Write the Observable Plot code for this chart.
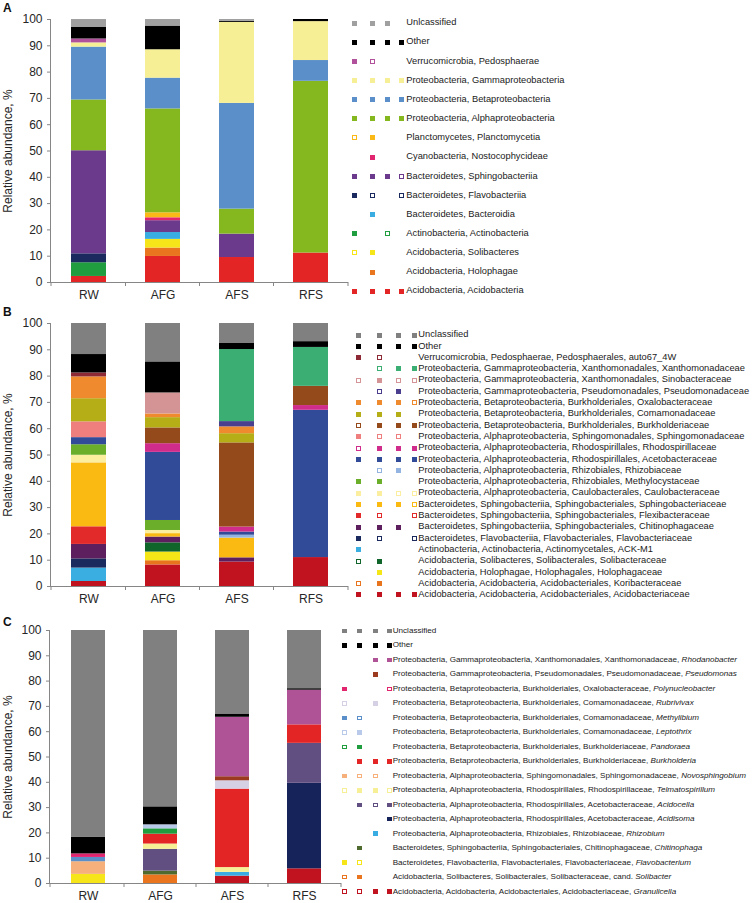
<!DOCTYPE html>
<html><head><meta charset="utf-8">
<script src="https://cdn.jsdelivr.net/npm/d3@7"></script>
<script src="https://cdn.jsdelivr.net/npm/@observablehq/plot@0.6"></script>
<style>
body{margin:0;background:#fff;font-family:"Liberation Sans",Arial,sans-serif;}
#root{position:relative;width:753px;height:903px;overflow:hidden;background:#fff;}
.plotbox{position:absolute;left:0;}
.lg{position:absolute;white-space:nowrap;color:#1a1a1a;line-height:1.2;}
.mk{position:absolute;box-sizing:border-box;}
.letter{position:absolute;left:3px;font-weight:bold;font-size:12px;color:#111;}
</style></head><body><div id="root"></div>
<script>
const samples = ["RW", "AFG", "AFS", "RFS"];
const yTicks = [0, 10, 20, 30, 40, 50, 60, 70, 80, 90, 100];
const yTitle = "Relative abundance, %";

// ---------- Panel A ----------
const aTaxa = ["Unlcassified", "Other", "Verrucomicrobia, Pedosphaerae", "Proteobacteria, Gammaproteobacteria",
  "Proteobacteria, Betaproteobacteria", "Proteobacteria, Alphaproteobacteria", "Planctomycetes, Planctomycetia",
  "Cyanobacteria, Nostocophycideae", "Bacteroidetes, Sphingobacteriia", "Bacteroidetes, Flavobacteriia",
  "Bacteroidetes, Bacteroidia", "Actinobacteria, Actinobacteria", "Acidobacteria, Solibacteres",
  "Acidobacteria, Holophagae", "Acidobacteria, Acidobacteria"];
const aColors = ["#a0a0a0", "#000000", "#b2519b", "#f7ef96", "#5b8fc9", "#85b81f", "#fbb917", "#e1266f",
  "#6b3a8d", "#1b2a5e", "#39ade1", "#1f9d3f", "#f6e619", "#e9761f", "#e32526"];
const aRW  = [2.9, 4.5, 1.5, 1.6, 20.1, 19.3, 0, 0, 39.2, 3.4, 0, 5.2, 0, 0, 2.3];
const aAFG = [2.5, 9.0, 0, 10.8, 11.7, 39.5, 1.9, 1.1, 4.5, 0, 2.6, 0, 3.3, 3.2, 9.9];
const aAFS = [0.7, 0.4, 0, 30.8, 40.2, 9.5, 0, 0, 8.9, 0, 0, 0, 0, 0, 9.5];
const aRFS = [0, 0.8, 0, 14.8, 7.9, 65.3, 0, 0, 0, 0, 0, 0, 0, 0, 11.2];
const aMarks = ["FFF-", "FFFF", "FO--", "FFFF", "FFFF", "FFFF", "OF--", "-F--", "FFFO", "FO-O", "-F--",
  "F-O-", "OF--", "-F--", "FFFF"];

// ---------- Panel B ----------
const bTaxa = ["Unclassified", "Other",
  "Verrucomicrobia, Pedosphaerae, Pedosphaerales, auto67_4W",
  "Proteobacteria, Gammaproteobacteria, Xanthomonadales, Xanthomonadaceae",
  "Proteobacteria, Gammaproteobacteria, Xanthomonadales, Sinobacteraceae",
  "Proteobacteria, Gammaproteobacteria, Pseudomonadales, Pseudomonadaceae",
  "Proteobacteria, Betaproteobacteria, Burkholderiales, Oxalobacteraceae",
  "Proteobacteria, Betaproteobacteria, Burkholderiales, Comamonadaceae",
  "Proteobacteria, Betaproteobacteria, Burkholderiales, Burkholderiaceae",
  "Proteobacteria, Alphaproteobacteria, Sphingomonadales, Sphingomonadaceae",
  "Proteobacteria, Alphaproteobacteria, Rhodospirillales, Rhodospirillaceae",
  "Proteobacteria, Alphaproteobacteria, Rhodospirillales, Acetobacteraceae",
  "Proteobacteria, Alphaproteobacteria, Rhizobiales, Rhizobiaceae",
  "Proteobacteria, Alphaproteobacteria, Rhizobiales, Methylocystaceae",
  "Proteobacteria, Alphaproteobacteria, Caulobacterales, Caulobacteraceae",
  "Bacteroidetes, Sphingobacteriia, Sphingobacteriales, Sphingobacteriaceae",
  "Bacteroidetes, Sphingobacteriia, Sphingobacteriales, Flexibacteraceae",
  "Bacteroidetes, Sphingobacteriia, Sphingobacteriales, Chitinophagaceae",
  "Bacteroidetes, Flavobacteriia, Flavobacteriales, Flavobacteriaceae",
  "Actinobacteria, Actinobacteria, Actinomycetales, ACK-M1",
  "Acidobacteria, Solibacteres, Solibacterales, Solibacteraceae",
  "Acidobacteria, Holophagae, Holophagales, Holophagaceae",
  "Acidobacteria, Acidobacteria, Acidobacteriales, Koribacteraceae",
  "Acidobacteria, Acidobacteria, Acidobacteriales, Acidobacteriaceae"];
const bColors = ["#808080", "#000000", "#8e2a36", "#3bae74", "#d49495", "#4a3e8e", "#f08a2e", "#b5ae16",
  "#954a1c", "#ef7f7e", "#d02c8c", "#324b99", "#93b4e0", "#6aae2a", "#fbee9e", "#fbba12", "#e22a2a",
  "#5e1f5e", "#1b2a5e", "#3aaee0", "#10652a", "#f5e617", "#e8751e", "#c0121f"];
const bRW  = [11.8, 7.0, 1.5, 0, 0, 0, 8.3, 8.8, 0, 6.0, 0, 2.7, 0, 4.0, 2.9, 24.3, 6.7, 5.5, 3.5, 5.1, 0, 0, 0, 1.9];
const bAFG = [14.6, 11.8, 0, 0, 8.0, 0, 1.4, 3.9, 6.0, 0, 3.3, 25.9, 0, 3.8, 1.2, 1.3, 0, 2.2, 0, 0, 3.5, 3.3, 1.6, 8.2];
const bAFS = [7.6, 2.3, 0, 27.4, 0, 2.0, 2.6, 3.5, 32.0, 0, 1.9, 1.2, 1.1, 0, 0, 7.5, 0, 1.6, 0, 0, 0, 0, 0, 9.3];
const bRFS = [6.9, 2.2, 0, 14.8, 0, 0, 0, 0, 7.3, 0, 1.8, 56.0, 0, 0, 0, 0, 0, 0, 0, 0, 0, 0, 0, 11.0];
const bMarks = ["FFFF", "FFFF", "FO--", "-OFF", "OFOO", "-OF-", "FFFO", "FFF-", "OFFF", "FOO-", "OFFF", "FFFF",
  "-OF-", "FF--", "FFOO", "FFFO", "FO-O", "FFF-", "FO-O", "F---", "OF--", "-F--", "OF--", "FFFF"];

// ---------- Panel C ----------
const cTaxa = ["Unclassified", "Other",
  "Proteobacteria, Gammaproteobacteria, Xanthomonadales, Xanthomonadaceae, ",
  "Proteobacteria, Gammaproteobacteria, Pseudomonadales, Pseudomonadaceae, ",
  "Proteobacteria, Betaproteobacteria, Burkholderiales, Oxalobacteraceae, ",
  "Proteobacteria, Betaproteobacteria, Burkholderiales, Comamonadaceae, ",
  "Proteobacteria, Betaproteobacteria, Burkholderiales, Comamonadaceae, ",
  "Proteobacteria, Betaproteobacteria, Burkholderiales, Comamonadaceae, ",
  "Proteobacteria, Betaproteobacteria, Burkholderiales, Burkholderiaceae, ",
  "Proteobacteria, Betaproteobacteria, Burkholderiales, Burkholderiaceae, ",
  "Proteobacteria, Alphaproteobacteria, Sphingomonadales, Sphingomonadaceae, ",
  "Proteobacteria, Alphaproteobacteria, Rhodospirillales, Rhodospirillaceae, ",
  "Proteobacteria, Alphaproteobacteria, Rhodospirillales, Acetobacteraceae, ",
  "Proteobacteria, Alphaproteobacteria, Rhodospirillales, Acetobacteraceae, ",
  "Proteobacteria, Alphaproteobacteria, Rhizobiales, Rhizobiaceae, ",
  "Bacteroidetes, Sphingobacteriia, Sphingobacteriales, Chitinophagaceae, ",
  "Bacteroidetes, Flavobacteriia, Flavobacteriales, Flavobacteriaceae, ",
  "Acidobacteria, Solibacteres, Solibacterales, Solibacteraceae, cand. ",
  "Acidobacteria, Acidobacteria, Acidobacteriales, Acidobacteriaceae, "];
const cGenus = ["", "", "Rhodanobacter", "Pseudomonas", "Polynucleobacter", "Rubrivivax", "Methylibium",
  "Leptothrix", "Pandoraea", "Burkholderia", "Novosphingobium", "Telmatospirillum", "Acidocella", "Acidisoma",
  "Rhizobium", "Chitinophaga", "Flavobacterium", "Solibacter", "Granulicella"];
const cColors = ["#808080", "#000000", "#b05296", "#9b3a1f", "#e1266f", "#d6d0e4", "#5b8fc9", "#b8c9e9",
  "#1f9d3f", "#e32526", "#f5b07c", "#f7ef96", "#614f81", "#16235a", "#39ade1", "#4f6a2f", "#f6e619",
  "#e9761f", "#c0121f"];
const cRW  = [81.8, 6.5, 0, 0, 1.4, 0, 1.7, 0, 0, 0, 5.0, 0, 0, 0, 0, 0, 3.6, 0, 0];
const cAFG = [69.7, 7.1, 0, 0, 0, 0, 0, 1.6, 2.1, 3.9, 0, 2.1, 8.6, 0, 0, 1.5, 0, 3.4, 0];
const cAFS = [33.0, 1.3, 23.5, 1.6, 0, 3.3, 0, 0, 0, 31.0, 0, 1.9, 0, 0, 1.5, 0, 0, 0, 2.9];
const cRFS = [23.0, 0.6, 13.7, 0, 0, 0, 0, 0, 0, 7.3, 0, 0, 15.8, 33.8, 0, 0, 0, 0, 5.8];
const cMarks = ["FFFF", "FFFF", "--FF", "--F-", "F--O", "O-F-", "FO--", "OF--", "OF--", "-FFF", "FOO-", "OFFO",
  "-FOF", "---F", "--F-", "-F--", "FO--", "OF--", "OOFF"];

const root = document.getElementById("root");
const FONT = '"Liberation Sans", Arial, sans-serif';

function drawPanel(p) {
  const keys = p.taxa.map((t, i) => t + (p.genus ? p.genus[i] : "") + "#" + i);
  const rows = [];
  p.values.forEach((vals, j) => {
    for (let i = p.taxa.length - 1; i >= 0; i--) {
      if (vals[i] > 0) rows.push({sample: samples[j], taxon: keys[i], value: vals[i]});
    }
  });
  const plot = Plot.plot({
    width: p.width, height: p.height,
    marginLeft: p.ml, marginRight: 2, marginTop: p.mt, marginBottom: p.mb,
    style: {fontFamily: FONT, fontSize: "12px", color: "#262626", background: "transparent", overflow: "visible"},
    x: {domain: samples, paddingInner: 0.53, paddingOuter: 0.265, label: null},
    y: {domain: [0, 100], label: null},
    color: {domain: keys, range: p.colors},
    marks: [
      Plot.barY(rows, {x: "sample", y: "value", fill: "taxon"}),
      Plot.axisY({ticks: yTicks, tickSize: 4, tickPadding: 5, stroke: "#868686",
        label: yTitle, labelAnchor: "center", labelArrow: false, labelOffset: p.ml - 3, fontSize: 12}),
      Plot.axisX({tickSize: 0, tickPadding: 8, label: null, fontSize: 12}),
      Plot.ruleY([0], {stroke: "#868686"})
    ]
  });
  // Excel-like axis line and category boundary ticks, derived from scales
  const xs = plot.scale("x"), ys = plot.scale("y");
  const svg = d3.select(plot.tagName.toLowerCase() === "svg" ? plot : plot.querySelector("svg"));
  const y0 = ys.apply(0), y100 = ys.apply(100);
  const x0 = xs.range[0], x1 = xs.range[1];
  svg.append("line").attr("x1", x0 - 0.5).attr("x2", x0 - 0.5).attr("y1", y0).attr("y2", y100)
    .attr("stroke", "#868686");
  const bounds = [x0];
  for (let k = 0; k < samples.length - 1; k++)
    bounds.push((xs.apply(samples[k]) + xs.bandwidth + xs.apply(samples[k + 1])) / 2);
  bounds.push(x1);
  bounds.forEach(b => svg.append("line").attr("x1", b).attr("x2", b).attr("y1", y0).attr("y2", y0 + 4)
    .attr("stroke", "#868686"));
  const box = document.createElement("div");
  box.className = "plotbox";
  box.style.top = p.top + "px";
  box.appendChild(plot);
  root.appendChild(box);

  const letter = document.createElement("div");
  letter.className = "letter";
  letter.style.top = p.letterTop + "px";
  letter.textContent = p.letter;
  root.appendChild(letter);

  // legend grid
  const L = p.legend;
  p.taxa.forEach((t, i) => {
    const cy = L.y0 + i * L.dy;
    p.marks[i].split("").forEach((m, c) => {
      if (m === "-") return;
      const d = document.createElement("div");
      d.className = "mk";
      d.style.left = (L.cols[c] - L.ms / 2) + "px";
      d.style.top = (cy - L.ms / 2) + "px";
      d.style.width = L.ms + "px";
      d.style.height = L.ms + "px";
      if (m === "F") d.style.background = p.colors[i];
      else { d.style.background = "#fff"; d.style.border = "1px solid " + p.colors[i]; }
      root.appendChild(d);
    });
    const tx = document.createElement("div");
    tx.className = "lg";
    tx.style.left = L.textX + "px";
    tx.style.fontSize = L.fs + "px";
    tx.style.top = (cy - L.fs * 0.62) + "px";
    tx.appendChild(document.createTextNode(t));
    if (p.genus && p.genus[i]) {
      const em = document.createElement("i");
      em.textContent = p.genus[i];
      tx.appendChild(em);
    }
    root.appendChild(tx);
  });
}

drawPanel({top: 0, width: 350, height: 300, ml: 51, mt: 19, mb: 18, letter: "A", letterTop: 1,
  taxa: aTaxa, colors: aColors, values: [aRW, aAFG, aAFS, aRFS], marks: aMarks,
  legend: {y0: 23, dy: 19.16, cols: [354.7, 372, 387.3, 401.3], textX: 406.3, fs: 9.3, ms: 5}});
drawPanel({top: 304, width: 350, height: 300, ml: 51, mt: 19, mb: 18, letter: "B", letterTop: 305,
  taxa: bTaxa, colors: bColors, values: [bRW, bAFG, bAFS, bRFS], marks: bMarks,
  legend: {y0: 335, dy: 11.3, cols: [358.3, 379.3, 398.3, 414.3], textX: 418.3, fs: 9.3, ms: 5}});
drawPanel({top: 611, width: 343, height: 290, ml: 50, mt: 19, mb: 18, letter: "C", letterTop: 615,
  taxa: cTaxa, genus: cGenus, colors: cColors, values: [cRW, cAFG, cAFS, cRFS], marks: cMarks,
  legend: {y0: 631, dy: 14.48, cols: [344.3, 359.3, 375.3, 389.3], textX: 392.7, fs: 8.1, ms: 4.5}});
</script>
</body></html>
